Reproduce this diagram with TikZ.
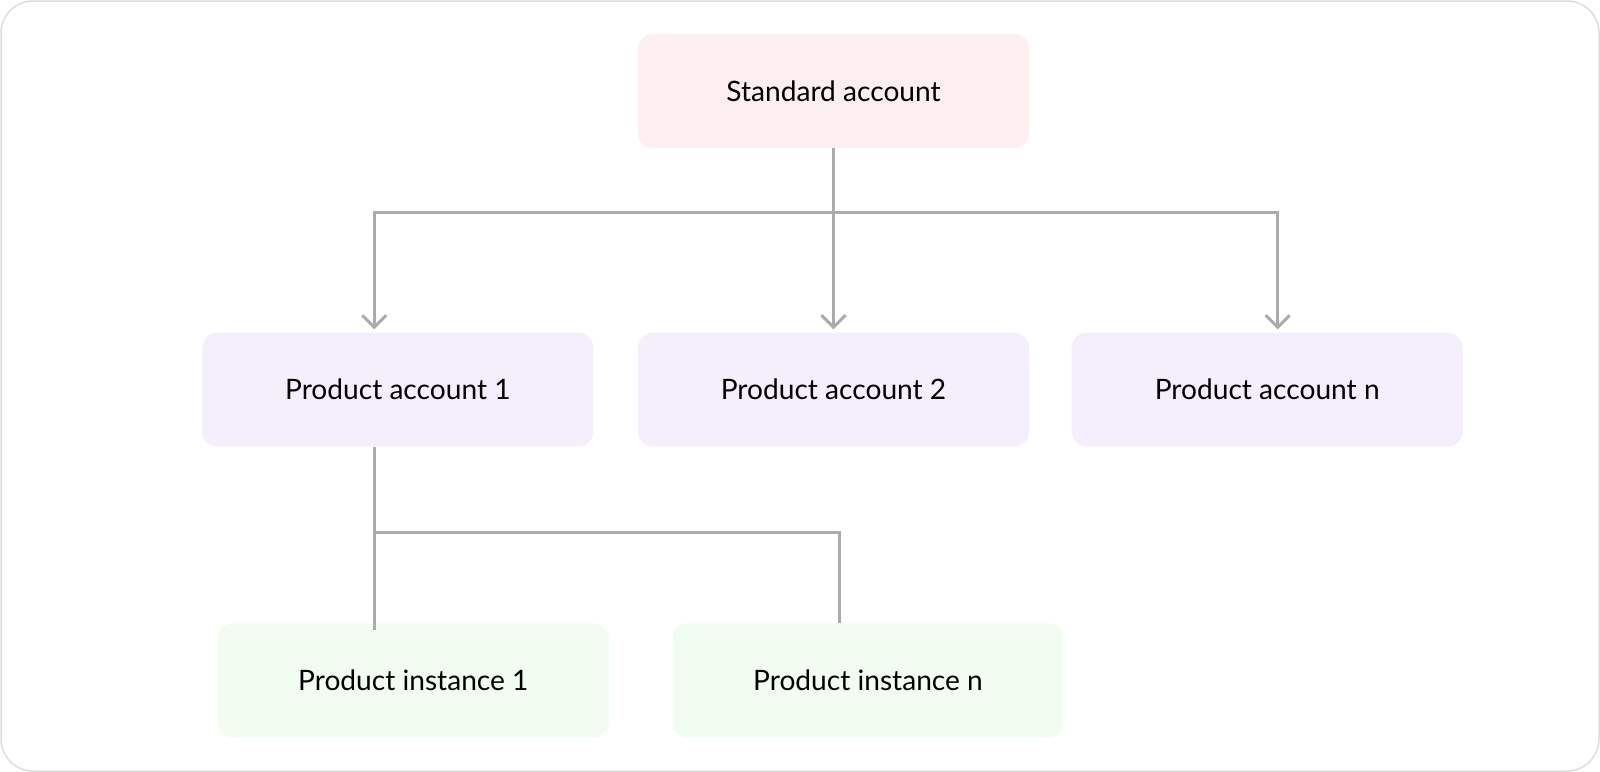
\documentclass[tikz,border=0pt]{standalone}
\usepackage{fontspec}
\setmainfont{Lato}
\usepackage{tikz}
\usetikzlibrary{arrows.meta,positioning}
\definecolor{stdfill}{HTML}{FDEEF0}
\definecolor{accfill}{HTML}{F5EEFD}
\definecolor{instfill}{HTML}{F1FDF0}
\definecolor{wire}{HTML}{ABABAB}
\definecolor{frame}{HTML}{DDDDDD}
\tikzset{
    %Define standard arrow tip
    >={Straight Barb[length=0.24cm,width=0.48cm]},
    %Define style for boxes
    kasse/.style={
           rectangle,
           rounded corners=0.3cm,
           inner sep=0pt,
           minimum width=7.82cm,
           minimum height=2.28cm,
           font=\fontsize{16}{19}\selectfont,
           text centered},
    % Define line styles
    linje/.style={
           draw=wire,
           line width=0.06cm},
    pil/.style={
           linje,
           ->,
           shorten >=0.06cm}
}
\begin{document}
\begin{tikzpicture}
      \useasboundingbox (0,0) rectangle (32,-15.44);
      \draw[frame, line width=0.03cm, rounded corners=0.64cm] (0.02,-0.02) rectangle (31.98,-15.42);

      \node[kasse, fill=stdfill] (std) at (16.67,-1.82) {Standard account};
      \node[kasse, fill=accfill, below=3.68cm of std] (acc2) {Product account 2};
      \node[kasse, fill=accfill, left=0.88cm of acc2] (acc1) {Product account 1};
      \node[kasse, fill=accfill, right=0.84cm of acc2] (accn) {Product account n};
      \node[kasse, fill=instfill, below=3.52cm of acc1, xshift=0.31cm] (inst1) {Product instance 1};
      \node[kasse, fill=instfill, right=1.26cm of inst1] (instn) {Product instance n};

      % top level fan out
      \coordinate (split) at ([yshift=-1.28cm]std.south);
      \draw[linje] (std.south) -- (split);
      \draw[pil] (split) -| ([xshift=-0.47cm]acc1.north);
      \draw[pil] (split) -- (acc2.north);
      \draw[pil] (split) -| ([xshift=0.21cm]accn.north);

      % instances
      \coordinate (tap) at ([xshift=-0.46cm]acc1.south);
      \coordinate (tapend) at ([yshift=-0.14cm]inst1.north);
      \draw[linje] (tap) -- (tap |- tapend);
      \draw[linje] ([yshift=-1.70cm]tap) -| ([xshift=-0.57cm]instn.north);
\end{tikzpicture}
\end{document}
